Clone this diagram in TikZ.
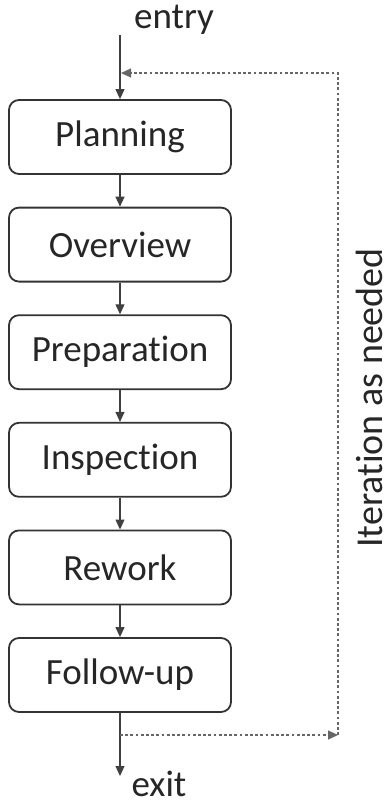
\documentclass[tikz,border=0pt]{standalone}
\usepackage{fontspec}
\setmainfont{Carlito}[Ligatures=NoCommon]
\usetikzlibrary{
    arrows.meta,
    positioning
}

\begin{document}
\begin{tikzpicture}[x=0.5pt, y=-0.5pt,
        stage/.style={draw=black!80, line width=0.9pt, rounded corners=5pt,
            minimum width=111pt, minimum height=37pt, inner sep=0pt,
            font=\fontsize{18.5}{20}\selectfont, text=black!85},
        label/.style={inner sep=0pt, anchor=base,
            font=\fontsize{18.5}{20}\selectfont, text=black!85},
        flow/.style={draw=black!75, line width=0.6pt,
            -{Triangle[length=5pt, width=4.5pt]}},
        loop/.style={draw=black!60, line width=0.6pt,
            dash pattern=on 1.4pt off 1.2pt},
        node distance=15.9pt]
    \useasboundingbox (0, 0) rectangle (390, 804);
    % stages
    \node[stage] (plan) at (120, 137) {Planning};
    \node[stage, below=of plan] (over) {Overview};
    \node[stage, below=of over] (prep) {Preparation};
    \node[stage, below=of prep] (insp) {Inspection};
    \node[stage, below=of insp] (rew) {Rework};
    \node[stage, below=of rew] (fol) {Follow-up};
    % entry and exit
    \node[label] (entry) at (174, 28) {entry};
    \node[label] (exit) at (159, 796) {exit};
    \coordinate (in) at (120, 35);
    \coordinate (out) at (120, 776);
    \draw[flow] (in) -- (plan);
    \draw[flow] (plan) -- (over);
    \draw[flow] (over) -- (prep);
    \draw[flow] (prep) -- (insp);
    \draw[flow] (insp) -- (rew);
    \draw[flow] (rew) -- (fol);
    \draw[flow] (fol) -- (out);
    % iteration loop
    \coordinate (split) at (120, 735);
    \coordinate (low) at (338, 735);
    \coordinate (high) at (338, 73);
    \coordinate (join) at (121, 73);
    \draw[loop, -{Triangle[length=5pt, width=4.5pt]}] (split) -- (low);
    \draw[loop, -{Triangle[length=5pt, width=4.5pt]}] (low) -- (high) -- (join);
    \node[label, rotate=90, font=\fontsize{19}{21}\selectfont] (iter) at (382, 398) {Iteration as needed};
\end{tikzpicture}
\end{document}
